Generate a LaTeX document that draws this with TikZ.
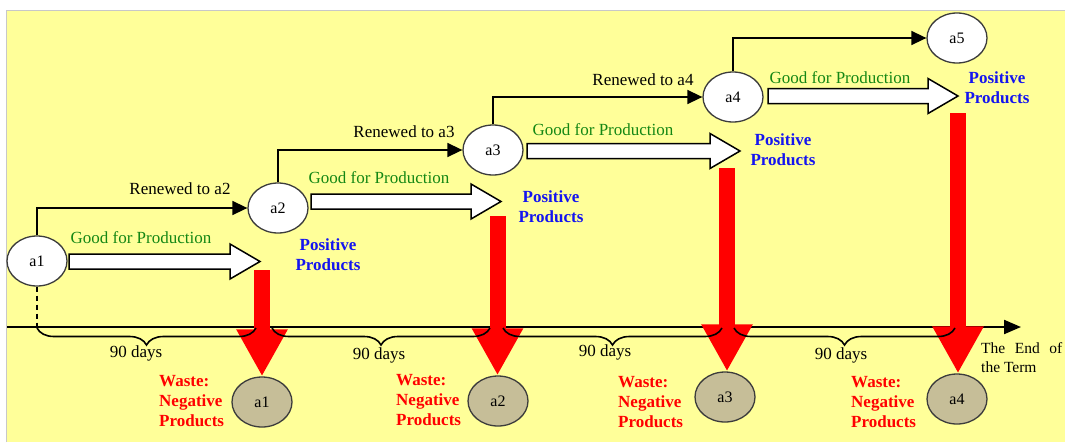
\documentclass[tikz,border=0pt]{standalone}
\usepackage{fontspec}
\setmainfont{Liberation Serif}
\usetikzlibrary{shapes.geometric,arrows.meta,decorations.pathreplacing}

\definecolor{paper}{RGB}{255,255,153}
\definecolor{frame}{RGB}{200,200,200}
\definecolor{prodgreen}{RGB}{20,135,20}
\definecolor{posblue}{RGB}{20,20,240}
\definecolor{wastered}{RGB}{255,0,0}
\definecolor{spent}{RGB}{198,190,152}
\definecolor{rim}{RGB}{60,60,60}

\tikzset{
  txt/.style={font=\rmfamily\fontsize{17}{20}\selectfont, inner sep=0pt},
  state/.style={ellipse, draw=rim, fill=white, line width=1.3pt,
    minimum width=60pt, minimum height=50pt, inner sep=0pt,
    font=\rmfamily\fontsize{16}{19}\selectfont},
  spentstate/.style={state, fill=spent},
  renew/.style={line width=1.6pt, -{Triangle[length=15pt,width=14pt]}},
  renewlabel/.style={txt},
  goodlabel/.style={txt, text=prodgreen},
  poslabel/.style={txt, text=posblue, font=\rmfamily\fontsize{17}{20}\selectfont\bfseries, align=center},
  wastelabel/.style={txt, text=wastered, font=\rmfamily\fontsize{17}{20}\selectfont\bfseries, align=left, anchor=west},
  dayslabel/.style={txt},
  waste/.style={wastered, line width=16pt, -{Triangle[length=47pt,width=48pt]}},
  period/.style={line width=1.6pt, decorate,
    decoration={brace, mirror, amplitude=17pt}},
  pics/goodarrow/.style={code={
    \draw[line width=1.5pt, fill=white, line join=miter]
      (0,-7.5) -- ({#1-30},-7.5) -- ({#1-30},-17.5) -- (#1,0)
      -- ({#1-30},17.5) -- ({#1-30},7.5) -- (0,7.5) -- cycle;}},
}

\begin{document}
\begin{tikzpicture}[x=1pt,y=-1pt]
\useasboundingbox (0,0) rectangle (1065,442);
% page and panel
\fill[white] (0,0) rectangle (1065,442);
\fill[paper] (6,10) rectangle (1065,442);
\draw[frame, line width=1.5pt] (6.5,442) -- (6.5,10.5) -- (1065,10.5);

% time axis
\coordinate (t0) at (7,327);
\coordinate (t1) at (1021,327);
\draw[line width=2.2pt, -{Triangle[length=17pt,width=14pt]}] (t0) -- (t1);

% active states
\node[state] (a1) at (37,261) {a1};
\node[state] (a2) at (278,208) {a2};
\node[state] (a3) at (493,150) {a3};
\node[state] (a4) at (733,97) {a4};
\node[state] (a5) at (957,38) {a5};

% renewals
\draw[renew] (a1.north) |- (a2.west);
\draw[renew] (a2.north) |- (a3.west);
\draw[renew] (a3.north) |- (a4.west);
\draw[renew] (a4.north) |- (a5.west);
\node[renewlabel] at (180,189) {Renewed to a2};
\node[renewlabel] at (404,132) {Renewed to a3};
\node[renewlabel] at (643,80) {Renewed to a4};

% start of the term
\draw[dashed, line width=1.3pt, dash pattern=on 5pt off 4pt] (a1.south) -- (a1.south |- t0);

% production arrows
\pic at (69,261.5) {goodarrow=191};
\pic at (311,201.5) {goodarrow=190};
\pic at (527,151) {goodarrow=213};
\pic at (768,96) {goodarrow=190};
\node[goodlabel] at (141,238) {Good for Production};
\node[goodlabel] at (379,178) {Good for Production};
\node[goodlabel] at (603,130) {Good for Production};
\node[goodlabel] at (840,78) {Good for Production};

\node[poslabel] (p1) at (328,255) {Positive\\Products};
\node[poslabel] (p2) at (551,207) {Positive\\Products};
\node[poslabel] (p3) at (783,150) {Positive\\Products};
\node[poslabel] (p4) at (997,88) {Positive\\Products};

% spent states
\node[spentstate] (b1) at (262,402) {a1};
\node[spentstate] (b2) at (498,401) {a2};
\node[spentstate] (b3) at (725,397) {a3};
\node[spentstate] (b4) at (957,399) {a4};

% waste arrows
\coordinate (w1) at (262,270);
\coordinate (w2) at (497.5,216);
\coordinate (w3) at (727,168);
\coordinate (w4) at (958,113);
\draw[waste] (w1) -- (w1 |- b1.north);
\draw[waste] (w2) -- (w2 |- b2.north);
\draw[waste] (w3) -- (w3 |- b3.north);
\draw[waste] (w4) -- (w4 |- b4.north);

% periods
\draw[period] (37,328) -- (256,328);
\draw[period] (272,328) -- (490,328);
\draw[period] (503,328) -- (722,328);
\draw[period] (734,328) -- (955,328);
\node[dayslabel] at (136,353) {90 days};
\node[dayslabel] at (379,355) {90 days};
\node[dayslabel] at (605,352) {90 days};
\node[dayslabel] at (841,355) {90 days};

\node[wastelabel] at (159,401) {Waste:\\Negative\\Products};
\node[wastelabel] at (396,400) {Waste:\\Negative\\Products};
\node[wastelabel] at (618,402) {Waste:\\Negative\\Products};
\node[wastelabel] at (851,402) {Waste:\\Negative\\Products};

\node[txt, anchor=north west, text width=81pt, align=justify,
  font=\rmfamily\fontsize{15.5}{19}\selectfont] (term) at (981,342) {The End of the Term};
\end{tikzpicture}
\end{document}
